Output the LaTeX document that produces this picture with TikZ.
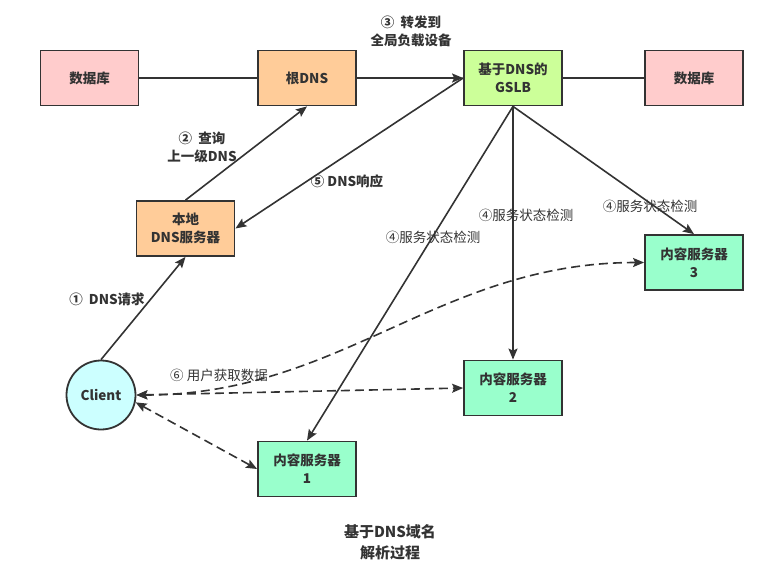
\documentclass[tikz,border=0pt]{standalone}
\usepackage{fontspec}
\setmainfont{Noto Sans CJK SC}
\usetikzlibrary{arrows.meta}
\definecolor{ink}{HTML}{333333}
\definecolor{dbfill}{HTML}{FFCCCC}
\definecolor{dnsfill}{HTML}{FFCC99}
\definecolor{gslbfill}{HTML}{CCFF99}
\definecolor{srvfill}{HTML}{99FFCC}
\definecolor{clientfill}{HTML}{CCFFFF}
\tikzset{
  boxnode/.style={draw=ink, line width=1.8pt, minimum width=98pt, minimum height=55pt, inner sep=0pt, align=center, font=\fontsize{13.5}{18}\selectfont\bfseries, text=ink},
  conn/.style={draw=ink, line width=1.6pt},
  arr/.style={conn, -{Stealth[length=11pt,width=9pt,inset=2pt]}},
  darr/.style={conn, dash pattern=on 9pt off 5pt, {Stealth[length=11pt,width=9pt,inset=2pt]}-{Stealth[length=11pt,width=9pt,inset=2pt]}},
  lab/.style={align=center, text=ink, font=\fontsize{13.5}{18}\selectfont\bfseries, inner sep=1pt},
  labr/.style={align=center, text=ink, font=\fontsize{13.5}{18}\selectfont, inner sep=1pt},
}
\begin{document}
\begin{tikzpicture}[x=1pt,y=-1pt]
\useasboundingbox (0,0) rectangle (768,581);
\node[boxnode, fill=dbfill] (db1) at (89.5,78) {数据库};
\node[boxnode, fill=dnsfill] (root) at (307,78) {根DNS};
\node[boxnode, fill=gslbfill] (gslb) at (513,78) {基于DNS的\\GSLB};
\node[boxnode, fill=dbfill] (db2) at (694,78) {数据库};
\node[boxnode, fill=dnsfill] (local) at (185.5,228.5) {本地\\DNS服务器};
\node[draw=ink, line width=1.8pt, circle, minimum size=69pt, inner sep=0pt, fill=clientfill, text=ink, font=\fontsize{13.5}{18}\selectfont\bfseries] (client) at (101,395) {Client};
\node[boxnode, fill=srvfill] (c1) at (307,469) {内容服务器\\1};
\node[boxnode, fill=srvfill] (c2) at (513,388) {内容服务器\\2};
\node[boxnode, fill=srvfill] (c3) at (694,262.5) {内容服务器\\3};

\draw[conn] (db1) -- (root);
\draw[arr] (root) -- (gslb);
\draw[conn] (gslb) -- (db2);
\draw[arr] (local.north) -- (root.south);
\draw[arr] (gslb.west) -- (local.east);
\draw[arr] (gslb.south) -- (c1.north);
\draw[arr] (gslb.south) -- (c2.north);
\draw[arr] (gslb.south) -- (c3.north);
\draw[arr] (client.north) -- (local.south);
\draw[darr] (client.east) -- (c2.west);
\draw[darr] (client.east) to[out=0,in=180] (c3.west);
\draw[darr] (client.-12) -- (c1.west);

\node[lab] (l3) at (411,31) {③\ \ 转发到\\全局负载设备};
\node[lab] (l2) at (202,147) {②\ \ 查询\\上一级DNS};
\node[lab] (l5) at (347,181) {⑤ DNS响应};
\node[lab] (l1) at (107,299) {①\ \ DNS请求};
\node[labr] (l6) at (219,375) {⑥ 用户获取数据};
\node[labr] (l4a) at (433,237) {④服务状态检测};
\node[labr] (l4b) at (526,215) {④服务状态检测};
\node[labr] (l4c) at (650,206) {④服务状态检测};
\node[lab, font=\fontsize{15}{21}\selectfont\bfseries] (title) at (390,542) {基于DNS域名\\解析过程};
\end{tikzpicture}
\end{document}
